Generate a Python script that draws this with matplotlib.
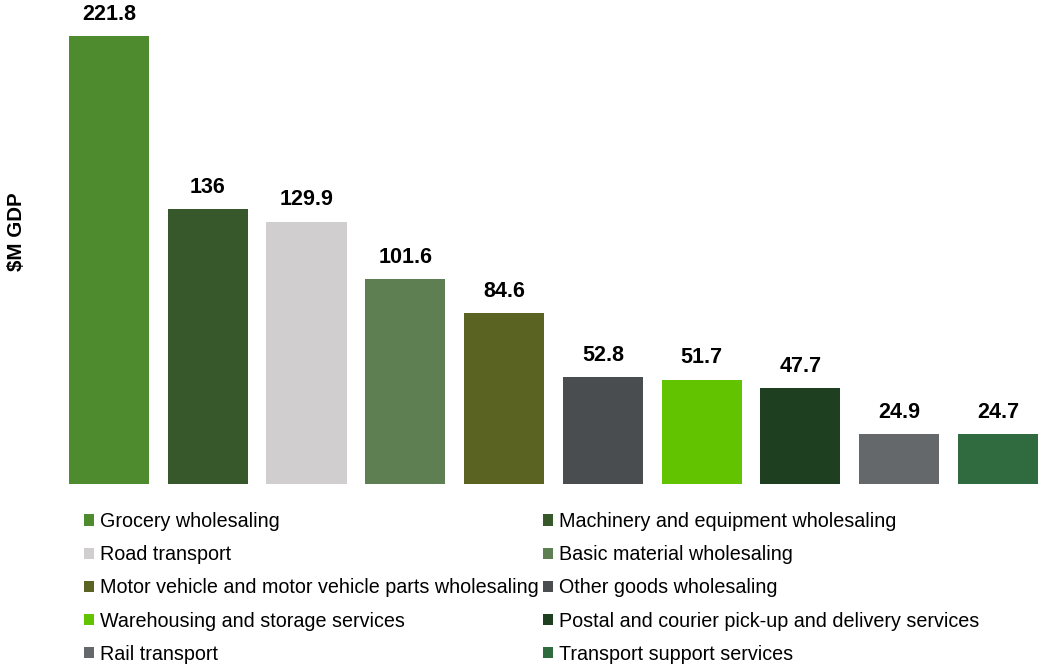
import matplotlib.pyplot as plt
from matplotlib.patches import Patch

plt.rcParams["font.family"] = ["Liberation Sans", "DejaVu Sans"]

categories = [
    "Grocery wholesaling",
    "Machinery and equipment wholesaling",
    "Road transport",
    "Basic material wholesaling",
    "Motor vehicle and motor vehicle parts wholesaling",
    "Other goods wholesaling",
    "Warehousing and storage services",
    "Postal and courier pick-up and delivery services",
    "Rail transport",
    "Transport support services",
]
values = [221.8, 136, 129.9, 101.6, 84.6, 52.8, 51.7, 47.7, 24.9, 24.7]
labels = ["221.8", "136", "129.9", "101.6", "84.6", "52.8", "51.7", "47.7", "24.9", "24.7"]
colors = ["#4E8B2E", "#36582A", "#D0CECF", "#5E7F52", "#5A6322",
          "#4A4D50", "#62C400", "#1E3F20", "#65686B", "#2F6B3E"]

fig = plt.figure(figsize=(10.38, 6.64), dpi=100)
ax = fig.add_axes([59.5 / 1038, 1 - 484 / 664, 1 - 59.5 / 1038, 484 / 664])

x = range(len(values))
ax.bar(x, values, width=0.81, color=colors)
for i, (v, lab) in enumerate(zip(values, labels)):
    ax.annotate(lab, (i, v), xytext=(0, 8), textcoords="offset points",
                ha="center", va="bottom", fontsize=15.5, fontweight="bold")

ax.set_xlim(-0.5, 9.5 - 9.5 / 99)
ax.set_ylim(0, 239.6)
ax.axis("off")

fig.text(16 / 1038, 1 - 232 / 664, "\\$M GDP", rotation=90, ha="center", va="center",
         fontsize=14.8, fontweight="bold")

# legend fills row-wise in the reference, so reorder for matplotlib's column fill
order = list(range(0, 10, 2)) + list(range(1, 10, 2))
handles = [Patch(facecolor=colors[i], label=categories[i]) for i in order]
fig.legend(handles=handles, ncol=2, loc="upper left",
           bbox_to_anchor=(84 / 1038, 1 - 512 / 664), frameon=False,
           fontsize=14.2, handlelength=0.5, handleheight=0.5, handletextpad=0.3,
           columnspacing=0.25, labelspacing=0.72, borderpad=0, borderaxespad=0)

fig.savefig("out.png", dpi=100)
